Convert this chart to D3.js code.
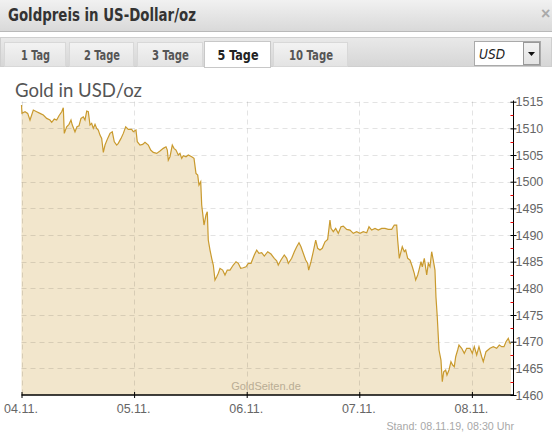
<!DOCTYPE html>
<html><head><meta charset="utf-8">
<script src="https://cdn.jsdelivr.net/npm/d3@7"></script>
<style>body{margin:0;background:#fff;}svg{display:block}</style>
</head><body>
<svg id="c" width="552" height="438"></svg>
<script>
// hours since 04.11. 00:00
const hours=[0,0.1,0.75,1.32,1.81,2.52,3.24,3.94,4.65,5.37,6.07,6.44,6.99,7.5,7.99,8.57,8.91,9.12,9.63,10.12,10.55,10.83,11.4,11.83,12.26,12.68,13.17,13.53,13.9,14.24,14.6,14.96,15.3,15.67,16.03,16.37,16.73,17.09,17.44,17.8,18.37,18.86,19.35,19.78,20.29,20.63,21.21,21.7,22.21,22.76,23.49,
23.83,24.4,24.68,25.26,25.83,26.32,27.03,27.54,28.09,28.82,29.52,30.22,30.8,31.08,31.29,31.65,32.14,32.5,32.93,33.42,33.78,34.15,34.49,35.06,35.55,36.28,36.77,37.19,37.56,37.83,38.2,38.41,38.62,38.9,39.32,39.6,39.81,40.18,40.54,40.88,41.24,41.61,41.95,42.31,42.88,43.37,43.86,44.44,45.14,45.72,46.21,46.72,47.27,47.85,48.34,
48.92,49.62,50.13,50.62,51.2,51.75,52.48,53.18,53.88,54.39,54.73,55.31,56.01,56.53,56.87,57.59,58.15,58.66,59.15,59.57,60.06,60.57,61.0,61.21,61.7,62.19,62.71,63.13,63.62,64.11,64.69,65.26,65.75,65.97,66.46,66.97,67.52,68.1,68.59,69.31,70.02,70.72,71.44,72.15,72.85,
73.58,74.07,74.64,75.35,76.05,76.77,77.48,78.18,78.91,79.46,79.97,80.18,80.53,80.89,81.16,81.59,81.89,82.32,82.81,83.3,83.72,84.02,84.45,84.72,85.15,85.43,85.86,86.37,86.71,87.07,87.43,87.77,88.13,88.34,88.62,88.99,89.41,89.69,89.99,90.41,90.69,91.12,91.54,91.9,92.25,92.55,92.97,93.25,93.82,94.38,94.89,95.59,96.09,96.51,97.02,97.51,98.09,98.43,99.01,99.86,100.56,101.28,101.84,102.35,102.84,103.27,103.76,104.12,104.33];
const prices=[1514.37,1512.81,1513.11,1512.81,1511.56,1513.43,1513.11,1512.81,1512.49,1511.87,1511.56,1511.13,1511.74,1511.56,1512.36,1513.11,1513.86,1509.06,1510.30,1510.75,1511.56,1510.62,1509.36,1510.30,1510.49,1511.87,1512.17,1511.56,1513.24,1513.11,1510.62,1510.94,1510.0,1510.75,1510.0,1509.68,1508.74,1508.12,1505.5,1506.87,1508.12,1509.06,1509.36,1507.49,1506.87,1507.19,1508.12,1509.06,1510.30,1509.81,1509.81,
1509.36,1509.68,1507.49,1506.87,1507.0,1507.37,1506.87,1505.93,1505.5,1505.31,1505.74,1506.25,1506.55,1505.93,1504.06,1504.68,1506.87,1506.25,1505.93,1505.0,1505.31,1504.38,1504.86,1504.68,1505.0,1504.68,1504.38,1501.56,1501.24,1499.37,1499.99,1495.62,1494.06,1491.87,1493.75,1494.36,1489.06,1487.18,1485.63,1484.37,1481.56,1482.18,1482.82,1483.75,1483.43,1482.5,1483.43,1483.43,1484.37,1484.99,1484.69,1483.75,1483.87,1484.05,1484.69,
1484.69,1486.25,1487.18,1486.57,1486.68,1486.06,1486.87,1486.43,1485.63,1485.18,1484.37,1485.31,1486.25,1485.63,1484.69,1485.63,1486.87,1487.8,1488.55,1487.8,1486.57,1485.31,1484.69,1483.43,1484.99,1486.87,1489.06,1487.5,1487.18,1487.5,1488.74,1489.19,1492.81,1491.25,1490.62,1491.25,1490.31,1491.55,1491.68,1491.06,1490.93,1490.31,1490.62,1490.31,1490.62,
1490.43,1491.55,1490.93,1491.25,1490.93,1491.25,1491.25,1491.06,1491.06,1491.87,1491.87,1489.06,1485.63,1486.87,1487.8,1486.87,1487.18,1485.63,1485.31,1484.05,1482.82,1481.56,1482.5,1483.43,1484.99,1484.05,1485.63,1482.5,1484.69,1484.05,1486.87,1485.31,1483.43,1478.43,1474.68,1468.44,1466.56,1462.49,1464.37,1464.69,1463.75,1464.69,1466.24,1465.62,1465.31,1467.18,1468.44,1469.37,1468.76,1467.82,1468.76,1468.76,1467.82,1469.06,1467.5,1469.06,1467.18,1466.24,1468.12,1468.76,1469.06,1468.76,1469.37,1469.06,1469.06,1469.99,1470.63,1469.69,1469.6];
const dayHours=[0,24,48,72,96];
const dayLabels=["04.11.","05.11.","06.11.","07.11.","08.11."];
const priceTicks=[1460,1465,1470,1475,1480,1485,1490,1495,1500,1505,1510,1515];
const minorTicks=[1462.5,1467.5,1472.5,1477.5,1482.5,1487.5,1492.5,1497.5,1502.5,1507.5,1512.5];
const tabLabels=["1 Tag","2 Tage","3 Tage","5 Tage","10 Tage"];
const activeTab="5 Tage";
const headerTitle="Goldpreis in US-Dollar/oz";
const chartTitle="Gold in USD/oz";
const currency="USD";
const watermark="GoldSeiten.de";
const standText="Stand: 08.11.19, 08:30 Uhr";

const svg=d3.select("#c");
const defs=svg.append("defs");
const g1=defs.append("linearGradient").attr("id","hdr").attr("x1",0).attr("y1",0).attr("x2",0).attr("y2",1);
g1.append("stop").attr("offset","0%").attr("stop-color","#f1f1f1");
g1.append("stop").attr("offset","100%").attr("stop-color","#d9d9d9");
const g2=defs.append("linearGradient").attr("id","bar").attr("x1",0).attr("y1",0).attr("x2",0).attr("y2",1);
g2.append("stop").attr("offset","0%").attr("stop-color","#e9e9e9");
g2.append("stop").attr("offset","100%").attr("stop-color","#d6d6d6");
const g3=defs.append("linearGradient").attr("id","tab").attr("x1",0).attr("y1",0).attr("x2",0).attr("y2",1);
g3.append("stop").attr("offset","0%").attr("stop-color","#f3f3f3");
g3.append("stop").attr("offset","100%").attr("stop-color","#e3e3e3");

const condensed="'Liberation Sans Narrow','DejaVu Sans Condensed','Roboto',sans-serif";

// header
svg.append("rect").attr("x",0).attr("y",0).attr("width",552).attr("height",31).attr("fill","url(#hdr)");
svg.append("line").attr("x1",0).attr("x2",552).attr("y1",31.5).attr("y2",31.5).attr("stroke","#b9b9b9");
svg.append("text").attr("x",8).attr("y",20.5).text(headerTitle)
  .attr("font-family",condensed)
  .attr("font-weight","bold").attr("font-size",17).attr("fill","#333")
  .attr("textLength",188).attr("lengthAdjust","spacingAndGlyphs");
svg.append("text").attr("x",541).attr("y",19).text("×").attr("font-family","Liberation Sans,Arial")
  .attr("font-weight","bold").attr("font-size",16).attr("fill","#aaa");

// tab bar
svg.append("rect").attr("x",0.5).attr("y",37.5).attr("width",551).attr("height",29).attr("fill","url(#bar)").attr("stroke","#cfcfcf");
const tabX=[[4,65],[69,133],[137,202],[204,270],[273,347]];
const tabTextW=[29,36,37,41,44];
tabLabels.forEach((t,i)=>{
  const [a,b]=tabX[i];
  const act=t===activeTab;
  svg.append("rect").attr("x",a+0.5).attr("y",act?41.5:42.5).attr("width",b-a).attr("height",act?26:24)
    .attr("fill",act?"#fff":"url(#tab)").attr("stroke",act?"#c8c8c8":"#d8d8d8");
  svg.append("text").attr("x",(a+b)/2+1).attr("y",60).attr("text-anchor","middle").text(t)
    .attr("font-family",condensed)
    .attr("font-weight","bold").attr("font-size",14.5).attr("fill",act?"#222":"#555")
    .attr("textLength",tabTextW[i]).attr("lengthAdjust","spacingAndGlyphs");
});
// currency select
svg.append("rect").attr("x",474.5).attr("y",41.5).attr("width",66).attr("height",24).attr("fill","#fff").attr("stroke","#aaa");
svg.append("rect").attr("x",523.5).attr("y",42.5).attr("width",16).attr("height",22).attr("fill","url(#tab)").attr("stroke","#999");
svg.append("path").attr("d","M528,52 L535,52 L531.5,56 Z").attr("fill","#111");
svg.append("text").attr("x",479).attr("y",59).text(currency).attr("font-style","italic")
  .attr("font-family",condensed).attr("font-size",14).attr("fill","#222")
  .attr("textLength",26).attr("lengthAdjust","spacingAndGlyphs");

// chart title
svg.append("text").attr("x",15).attr("y",96.5).text(chartTitle)
  .attr("font-family","Lato,'Open Sans',sans-serif").attr("font-size",19.5).attr("fill","#555")
  .attr("textLength",127).attr("lengthAdjust","spacingAndGlyphs");

// scales
const x=d3.scaleLinear().domain([0,104.87]).range([21.5,513.5]);
const y=d3.scaleLinear().domain([1460,1515]).range([395,101.7]);
const data=hours.map((h,i)=>({h,p:prices[i]}));

// area
svg.append("path").datum(data).attr("fill","#f2e6cc")
  .attr("d",d3.area().x(d=>x(d.h)).y0(y(1460)).y1(d=>y(d.p)));

// grid
const grid=svg.append("g").attr("stroke","rgba(0,0,0,0.11)").attr("stroke-dasharray","5,4").attr("stroke-width",1);
priceTicks.filter(v=>v>1460).forEach(v=>{
  grid.append("line").attr("x1",21.5).attr("x2",513.5).attr("y1",Math.round(y(v))+0.5).attr("y2",Math.round(y(v))+0.5);
});
dayHours.forEach(h=>{
  const xx=Math.round(x(h))+0.5;
  grid.append("line").attr("x1",xx).attr("x2",xx).attr("y1",101.5).attr("y2",395);
});

// line
svg.append("path").datum(data).attr("fill","none").attr("stroke","#c99a2e").attr("stroke-width",1.2)
  .attr("stroke-linejoin","miter")
  .attr("d",d3.line().x(d=>x(d.h)).y(d=>y(d.p)));

// watermark
svg.append("text").attr("x",266).attr("y",390).attr("text-anchor","middle").text(watermark)
  .attr("font-family","'Liberation Sans',Arial,sans-serif").attr("font-size",11).attr("fill","#b9ad95");

// right axis
const ya=svg.append("g").attr("transform","translate(513.5,0)")
  .call(d3.axisRight(y).tickValues(priceTicks).tickSize(3).tickSizeOuter(0).tickFormat(d3.format("d")));
ya.select(".domain").attr("stroke","#000").attr("d","M0,100.5V395");
ya.selectAll(".tick line").attr("x1",-3).attr("x2",3).attr("stroke","#000");
ya.selectAll(".tick text").attr("x",2).attr("font-family","'Liberation Sans',Arial,sans-serif")
  .attr("font-size",12.5).attr("fill","#666");
ya.selectAll(".minor").data(minorTicks).enter().append("line").attr("class","minor")
  .attr("x1",-3).attr("x2",0).attr("y1",d=>Math.round(y(d))+0.5).attr("y2",d=>Math.round(y(d))+0.5).attr("stroke","#e00");

// bottom axis
const xa=svg.append("g").attr("transform","translate(0,395)")
  .call(d3.axisBottom(x).tickValues(dayHours).tickFormat((d,i)=>dayLabels[i]).tickSize(3).tickSizeOuter(0));
xa.select(".domain").attr("stroke","#000").attr("stroke-width",1.3).attr("d","M21.5,0H514");
xa.selectAll(".tick line").attr("y1",-3).attr("y2",3).attr("stroke","#000");
xa.selectAll(".tick text").attr("y",9.5).attr("x",-1).attr("font-family","'Liberation Sans',Arial,sans-serif")
  .attr("font-size",12.5).attr("fill","#666");

// stand
svg.append("text").attr("x",514).attr("y",430).attr("text-anchor","end").text(standText)
  .attr("font-family","'Liberation Sans',Arial,sans-serif").attr("font-size",10.7).attr("fill","#a8a8a8");
</script>
</body></html>
